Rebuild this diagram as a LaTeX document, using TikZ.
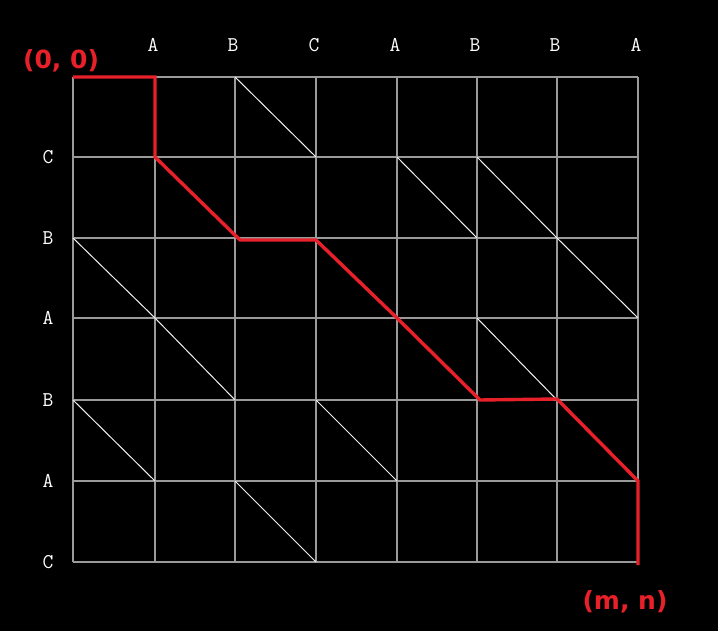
\documentclass[tikz,border=0pt]{standalone}
\usepackage{fontspec}
\newfontfamily\lblfont{DejaVu Sans}
\definecolor{gridgray}{HTML}{9A9A9A}
\definecolor{pathred}{HTML}{E8202A}
\begin{document}
\begin{tikzpicture}[x=1pt,y=-1pt,
  gridline/.style={draw=gridgray,line width=1.4pt},
  diag/.style={draw=white!90!gray,line width=1pt},
  redpath/.style={draw=pathred,line width=3.4pt,line join=miter},
  letter/.style={text=white,font=\ttfamily\fontsize{21}{21}\selectfont,inner sep=0pt},
  corner/.style={text=pathred,font=\lblfont\bfseries\fontsize{25}{25}\selectfont,inner sep=0pt}]
\fill[black] (0,0) rectangle (718,631);
\useasboundingbox (0,0) rectangle (718,631);
\def\xs{{73,155,235,316,397,477,557,638}}
\def\ys{{77,157,238,318,400,481,562}}
% grid
\foreach \i in {0,...,7} {
  \pgfmathsetmacro\xx{\xs[\i]}
  \draw[gridline] (\xx,77) -- (\xx,562);
}
\foreach \j in {0,...,6} {
  \pgfmathsetmacro\yy{\ys[\j]}
  \draw[gridline] (73,\yy) -- (638,\yy);
}
% white diagonals
\foreach \a/\b in {2/0, 4/1, 5/1, 0/2, 6/2, 1/3, 5/3, 0/4, 3/4, 2/5} {
  \pgfmathsetmacro\xa{\xs[\a]}
  \pgfmathsetmacro\xb{\xs[\a+1]}
  \pgfmathsetmacro\ya{\ys[\b]}
  \pgfmathsetmacro\yb{\ys[\b+1]}
  \draw[diag] (\xa,\ya) -- (\xb,\yb);
}
% labels
\foreach \t [count=\i] in {A,B,C,A,B,B,A} {
  \pgfmathsetmacro\xx{\xs[\i]-2}
  \node[letter] (top\i) at (\xx,45) {\t};
}
\foreach \t [count=\j] in {C,B,A,B,A,C} {
  \pgfmathsetmacro\yy{\ys[\j]}
  \node[letter] (left\j) at (48,\yy) {\t};
}
% red path vertices
\coordinate (p0) at (73,77);
\coordinate (p1) at (155,77);
\coordinate (p2) at (155,157);
\coordinate (p3) at (240,240);
\coordinate (p4) at (316,240);
\coordinate (p5) at (397,318);
\coordinate (p6) at (480,400);
\coordinate (p7) at (557,399);
\coordinate (p8) at (638,481);
\coordinate (p9) at (638,565);
\draw[redpath] (p0) -- (p1) -- (p2) -- (p3) -- (p4) -- (p5) -- (p6) -- (p7) -- (p8) -- (p9);
\node[corner] (start) at (61,61) {(0, 0)};
\node[corner] (end) at (625,602) {(m, n)};
\end{tikzpicture}
\end{document}
